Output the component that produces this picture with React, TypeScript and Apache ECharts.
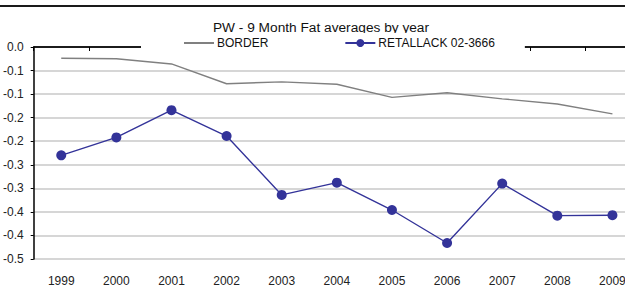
import React, { useEffect, useRef } from "react";
import * as echarts from "echarts";

const titleText = "PW - 9 Month Fat averages by year";
const years = ["1999", "2000", "2001", "2002", "2003", "2004", "2005", "2006", "2007", "2008", "2009"];
const borderValues = [-0.024, -0.025, -0.036, -0.078, -0.074, -0.079, -0.107, -0.097, -0.11, -0.121, -0.142];
const retallackValues = [-0.23, -0.192, -0.134, -0.189, -0.314, -0.288, -0.346, -0.416, -0.29, -0.358, -0.357];
const yTickLabels = ["-0.5", "-0.4", "-0.4", "-0.3", "-0.3", "-0.2", "-0.2", "-0.1", "-0.1", "0.0"];
const yMin = -0.45;
const yMax = 0;
const yInterval = 0.05;

const FONT = "'Liberation Sans', Arial, sans-serif";

export default function App() {
  const ref = useRef<HTMLDivElement>(null);
  useEffect(() => {
    if (!ref.current) return;
    const chart = echarts.init(ref.current, undefined, { renderer: "svg" });
    const gridColors = yTickLabels.map((_, i) => (i === yTickLabels.length - 1 ? "#404040" : "#c8c8c8"));
    chart.setOption({
      animation: false,
      backgroundColor: "#ffffff",
      graphic: [
        {
          type: "line",
          shape: { x1: 0, y1: 6, x2: 625, y2: 6 },
          style: { stroke: "#1a1a1a", lineWidth: 2 },
          z: 100,
        },
      ],
      title: {
        text: titleText,
        left: 321,
        textAlign: "center",
        top: 20,
        padding: 0,
        z: 1,
        textStyle: { fontFamily: FONT, fontSize: 13.7, fontWeight: "normal", color: "#111" },
      },
      legend: {
        left: 141,
        top: 33,
        z: 10,
        padding: [4, 30, 4, 42],
        backgroundColor: "#ffffff",
        itemWidth: 30,
        itemHeight: 10,
        itemGap: 76,
        textStyle: { fontFamily: FONT, fontSize: 12, color: "#111", padding: [0, 0, 0, -2] },
        data: [
          { name: "BORDER", itemStyle: { opacity: 0 } },
          { name: "RETALLACK 02-3666" },
        ],
      },
      grid: { left: 32, right: 1, top: 47, bottom: 40, containLabel: false },
      xAxis: {
        type: "category",
        data: years,
        boundaryGap: true,
        axisLine: { lineStyle: { color: "#000", width: 1.5 } },
        axisTick: { show: true, length: 4, lineStyle: { color: "#000" }, alignWithLabel: false },
        axisLabel: { margin: 16, fontFamily: FONT, fontSize: 12, color: "#222" },
      },
      yAxis: {
        type: "value",
        min: yMin,
        max: yMax,
        interval: yInterval,
        axisLine: { show: true, lineStyle: { color: "#000", width: 1.5 } },
        axisTick: { show: true, length: 3, lineStyle: { color: "#000" } },
        axisLabel: {
          margin: 10,
          fontFamily: FONT,
          fontSize: 12,
          color: "#222",
          formatter: (v: number) => yTickLabels[Math.round((v - yMin) / yInterval)] ?? "",
        },
        splitLine: { show: true, lineStyle: { color: gridColors, width: 1.5 } },
      },
      series: [
        {
          name: "BORDER",
          type: "line",
          data: borderValues,
          symbol: "none",
          lineStyle: { color: "#808080", width: 1.4 },
          itemStyle: { color: "#808080" },
          z: 2,
        },
        {
          name: "RETALLACK 02-3666",
          type: "line",
          data: retallackValues,
          symbol: "circle",
          symbolSize: 10,
          lineStyle: { color: "#333399", width: 1.4 },
          itemStyle: { color: "#333399" },
          z: 3,
        },
      ],
    });
    return () => chart.dispose();
  }, []);
  return (
    <div style={{ position: "absolute", left: 0, top: 0, width: 625, height: 299, overflow: "hidden" }}>
      <div ref={ref} style={{ width: 641, height: 299 }} />
    </div>
  );
}
